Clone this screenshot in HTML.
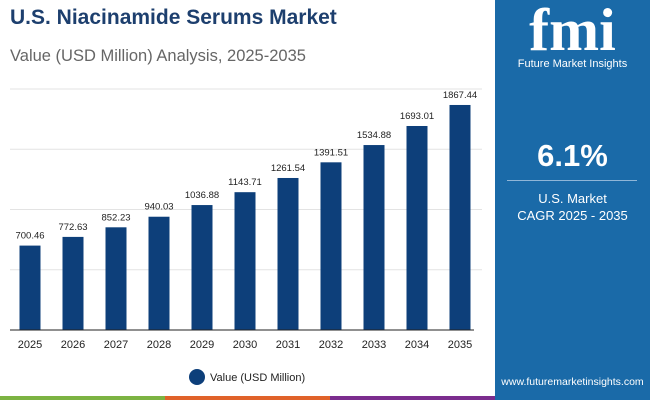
<!DOCTYPE html>
<html><head><meta charset="utf-8"><style>
body{margin:0;width:650px;height:400px;overflow:hidden;font-family:"Liberation Sans",sans-serif;background:#fff;position:relative}
.abs{position:absolute}
</style></head><body>
<div class="abs" style="left:10px;top:6px;font-size:21px;font-weight:bold;color:#1d3f6e">U.S. Niacinamide Serums Market</div>
<div class="abs" style="left:10px;top:47px;font-size:16.5px;color:#666">Value (USD Million) Analysis, 2025-2035</div>
<div class="abs" style="left:495px;top:0;width:155px;height:400px;background:#1a6aa8">
  <div class="abs" style="left:0;width:155px;top:0px;text-align:center;color:#fff;font-size:60px;font-weight:bold;font-family:'Liberation Serif',serif;line-height:60px">fmi</div>
  <div class="abs" style="left:0;width:155px;top:58px;text-align:center;color:#fff;font-size:11px">Future Market Insights</div>
  <div class="abs" style="left:0;width:155px;top:138px;text-align:center;color:#fff;font-size:31px;font-weight:bold">6.1%</div>
  <div class="abs" style="left:12px;width:130px;top:180px;height:1px;background:#8fb6d8"></div>
  <div class="abs" style="left:0;width:155px;top:190px;text-align:center;color:#fff;font-size:13px;line-height:17px">U.S. Market<br>CAGR 2025 - 2035</div>
  <div class="abs" style="left:0;width:155px;top:376px;text-align:center;color:#fff;font-size:10.5px">www.futuremarketinsights.com</div>
</div>
<div class="abs" style="left:0;top:396px;width:165px;height:4px;background:#7cb342"></div>
<div class="abs" style="left:165px;top:396px;width:165px;height:4px;background:#e0622a"></div>
<div class="abs" style="left:330px;top:396px;width:165px;height:4px;background:#7b2d8e"></div>
<svg class="abs" style="left:0;top:0" width="495" height="400" id="chart"></svg>
<script>
const categories=["2025","2026","2027","2028","2029","2030","2031","2032","2033","2034","2035"];
const values=[700.46,772.63,852.23,940.03,1036.88,1143.71,1261.54,1391.51,1534.88,1693.01,1867.44];
const labels=["700.46","772.63","852.23","940.03","1036.88","1143.71","1261.54","1391.51","1534.88","1693.01","1867.44"];
const gridVals=[500,1000,1500,2000];
const svg=document.getElementById('chart');const NS="http://www.w3.org/2000/svg";
const y0=330,yTop=89,yMax=2000,xL=10,xR=482;
const y=v=>y0-(v/yMax)*(y0-yTop);
const x=i=>30+i*43;
function mk(t,a){const e=document.createElementNS(NS,t);for(const k in a)e.setAttribute(k,a[k]);svg.appendChild(e);return e;}
gridVals.forEach(g=>{const l=mk('line',{x1:xL,x2:xR,y1:y(g),y2:y(g),stroke:'#e3e3e3','stroke-width':1});

});
values.forEach((v,i)=>{
const r=mk('rect',{x:x(i)-10.5,y:y(v),width:21,height:y0-y(v),fill:'#0d3f7a'});


const t=mk('text',{x:x(i),y:y(v)-7,'text-anchor':'middle','font-size':9.5,fill:'#222'});t.textContent=labels[i];


const c=mk('text',{x:x(i),y:348,'text-anchor':'middle','font-size':11,fill:'#222'});c.textContent=categories[i];


});
const ax=mk('line',{x1:xL,x2:xR-8,y1:y0,y2:y0,stroke:'#222','stroke-width':1});


const lc=mk('ellipse',{cx:197,cy:377,rx:8,ry:8,fill:'#0d3f7a'});


const lt=mk('text',{x:210,y:381,'font-size':11,fill:'#222'});lt.textContent='Value (USD Million)';


</script>
</body></html>
